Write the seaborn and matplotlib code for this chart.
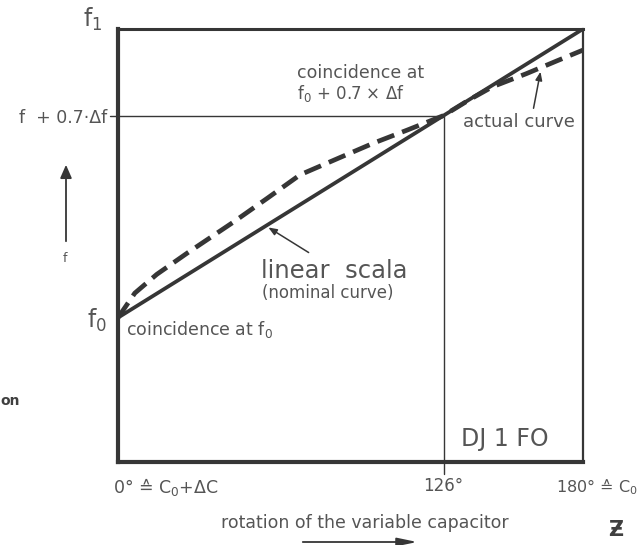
import numpy as np
import pandas as pd
import matplotlib
matplotlib.use("Agg")
import matplotlib.pyplot as plt
import seaborn as sns

# rotation of the variable capacitor (degrees) and relative frequency (f0 -> 0, f1 -> 1)
rotation_deg = [0, 6.5, 15, 27, 44.5, 58, 70.5, 86, 99, 112, 126, 136, 145, 158, 170, 180]
actual_f = [0, 0.085, 0.15, 0.225, 0.33, 0.415, 0.495, 0.555, 0.605, 0.65, 0.70,
            0.755, 0.80, 0.845, 0.89, 0.927]
linear_deg = [0, 180]
linear_f = [0, 1]

coincidence_deg = 126
coincidence_f = 0.7

x_ticks = [0, 126, 180]
x_tick_labels = ["0° ≙ C$_0$+ΔC", "126°", "180° ≙ C$_0$"]
y_ticks = [0, 0.7]
y_tick_labels = ["f$_0$", "f  + 0.7·Δf"]

sns.set_theme(style="white")
plt.rcParams["font.family"] = ["DejaVu Sans"]

INK = "#363636"
TXT = "#555555"

W, H = 641, 545
fig = plt.figure(figsize=(W / 100, H / 100), dpi=100)
fig.patch.set_facecolor("white")

def fx(px):
    return px / W

def fy(py):
    return 1 - py / H

ax = fig.add_axes([fx(118), fy(462), fx(583) - fx(118), fy(29) - fy(462)])
ax.set_xlim(0, 180)
ax.set_ylim(-0.5, 1.0)
ax.set_facecolor("white")

df_actual = pd.DataFrame({"rotation": rotation_deg, "f": actual_f})
df_linear = pd.DataFrame({"rotation": linear_deg, "f": linear_f})

sns.lineplot(data=df_linear, x="rotation", y="f", ax=ax, color=INK, lw=2.7,
             solid_capstyle="butt", zorder=4)
sns.lineplot(data=df_actual, x="rotation", y="f", ax=ax, color=INK, lw=3.4,
             linestyle=(0, (3.8, 1.8)), dash_capstyle="butt", zorder=3)

# guide lines for the coincidence point
ax.plot([-3.0, coincidence_deg], [coincidence_f, coincidence_f], color=INK, lw=1.0,
        clip_on=False, zorder=2)
ax.plot([coincidence_deg, coincidence_deg], [-0.54, coincidence_f], color=INK, lw=1.0,
        clip_on=False, zorder=2)

# frame
for side, lw in {"left": 3.0, "bottom": 3.0, "top": 2.2, "right": 1.6}.items():
    ax.spines[side].set_visible(True)
    ax.spines[side].set_color(INK)
    ax.spines[side].set_linewidth(lw)

ax.set_xticks(x_ticks)
ax.set_xticklabels([])
ax.set_yticks(y_ticks)
ax.set_yticklabels(y_tick_labels)
ax.tick_params(axis="x", length=0)
ax.tick_params(axis="y", length=4, width=1.0, color=INK, direction="out", pad=4)
for lab in ax.get_yticklabels():
    lab.set_color(TXT)
ax.get_yticklabels()[0].set_fontsize(17)
ax.get_yticklabels()[1].set_fontsize(12.5)
ax.set_xlabel("")
ax.set_ylabel("")

# x-axis labels
fig.text(fx(113), fy(487), x_tick_labels[0], fontsize=12.5, color=TXT, ha="left", va="center")
fig.text(fx(443), fy(486), x_tick_labels[1], fontsize=12, color=TXT, ha="center", va="center")
fig.text(fx(638), fy(487), x_tick_labels[2], fontsize=11.5, color=TXT, ha="right", va="center")

# f1 label
fig.text(fx(83), fy(19), "f$_1$", fontsize=17, color=TXT, ha="left", va="center")

# axis direction arrows and labels
fig.add_artist(matplotlib.patches.FancyArrowPatch(
    (fx(66), fy(244)), (fx(66), fy(162)), transform=fig.transFigure,
    arrowstyle="-|>,head_length=8,head_width=3.5", color=INK, lw=1.3))
fig.text(fx(65), fy(258), "f", fontsize=9, color=TXT, ha="center", va="center")

fig.text(fx(365), fy(523), "rotation of the variable capacitor", fontsize=12.5,
         color=TXT, ha="center", va="center")
fig.add_artist(matplotlib.patches.FancyArrowPatch(
    (fx(300), fy(542)), (fx(420), fy(542)), transform=fig.transFigure,
    arrowstyle="-|>,head_length=12,head_width=2.5", color=INK, lw=1.3))

# annotations inside the plot
fig.text(fx(126), fy(329), "coincidence at f$_0$", fontsize=12.5, color=TXT,
         ha="left", va="center")
fig.text(fx(297), fy(73), "coincidence at", fontsize=12.5, color=TXT, ha="left", va="center")
fig.text(fx(297), fy(94), "f$_0$ + 0.7 × Δf", fontsize=12, color=TXT, ha="left", va="center")
fig.text(fx(463), fy(122), "actual curve", fontsize=13, color=TXT, ha="left", va="center")
fig.text(fx(261), fy(271), "linear  scala", fontsize=17.5, color=TXT, ha="left", va="center")
fig.text(fx(262), fy(293), "(nominal curve)", fontsize=12, color=TXT, ha="left", va="center")
fig.text(fx(461), fy(439), "DJ 1 FO", fontsize=17, color=TXT, ha="left", va="center")

fig.add_artist(matplotlib.patches.FancyArrowPatch(
    (fx(311), fy(254)), (fx(266), fy(226)), transform=fig.transFigure,
    arrowstyle="-|>,head_length=5,head_width=2", color=INK, lw=1.1))
fig.add_artist(matplotlib.patches.FancyArrowPatch(
    (fx(533), fy(111)), (fx(541), fy(69)), transform=fig.transFigure,
    arrowstyle="-|>,head_length=5,head_width=2", color=INK, lw=1.1))

# cut-off neighbouring text and corner mark
fig.text(fx(0), fy(401), "on", fontsize=10, color="#404040", fontweight="bold",
         ha="left", va="center")
fig.text(fx(616), fy(530), "Ƶ", fontsize=15, color="#404040", fontweight="bold",
         ha="center", va="center")

fig.savefig("out.png", dpi=100, facecolor="white")
